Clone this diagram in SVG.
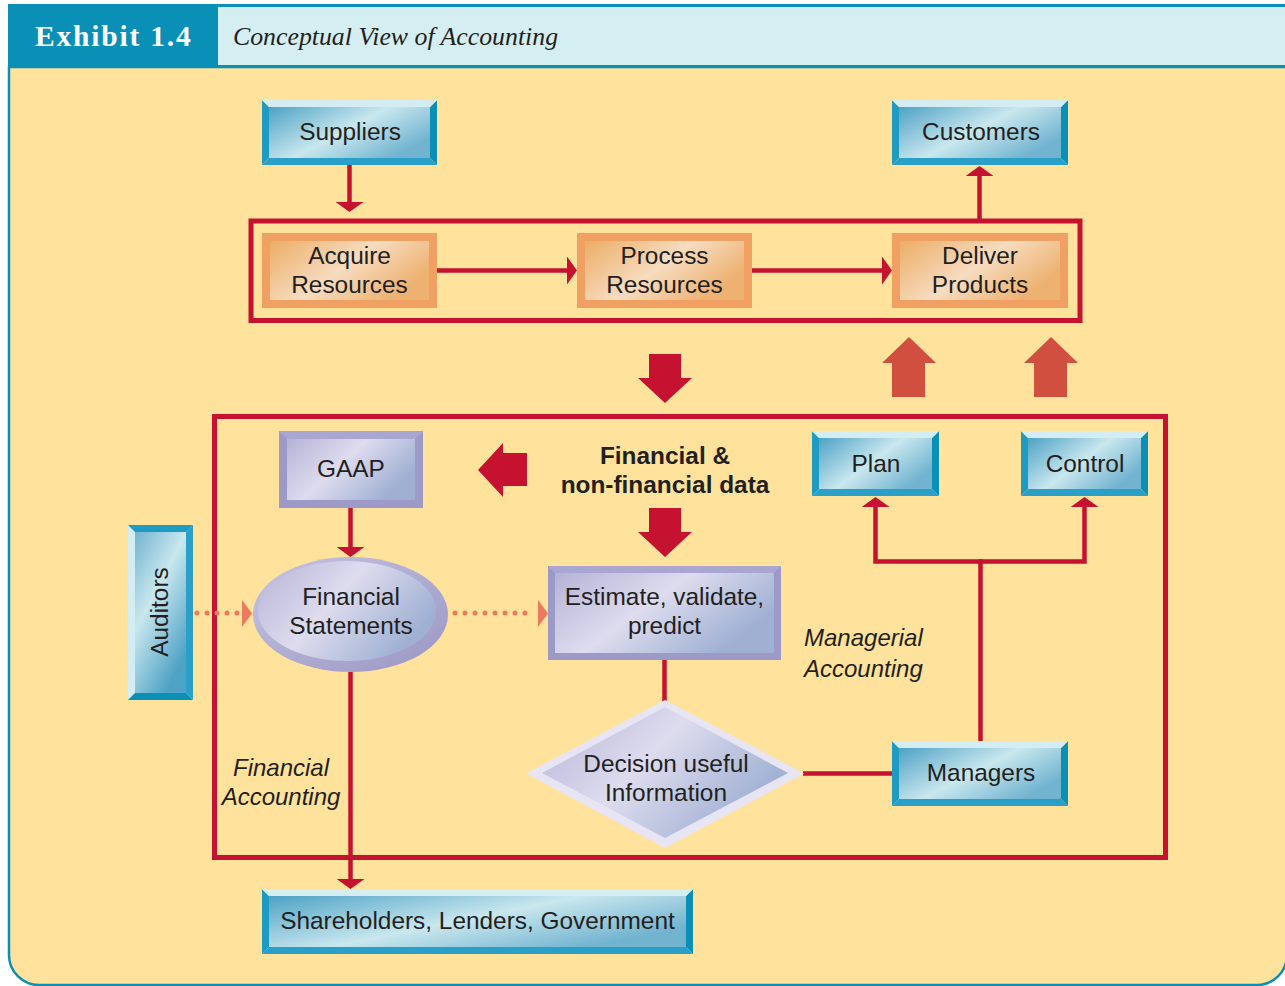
<svg xmlns="http://www.w3.org/2000/svg" width="1285" height="986" viewBox="0 0 1285 986">
  <defs>
    <style>
      .t { font-family: "Liberation Sans", Arial, sans-serif; font-size: 24.4px; fill: #231f20; text-anchor: middle; }
      .lbl { font-family: "Liberation Sans", Arial, sans-serif; font-size: 24px; fill: #231f20; font-style: italic; }
      .bold { font-weight: bold; }
      .wire { fill: none; stroke: #c41230; stroke-width: 4.5; }
      .frame { fill: none; stroke: #c41230; stroke-width: 5; }
      .dots { fill: none; stroke: #ec7a5e; stroke-width: 5; stroke-linecap: round; stroke-dasharray: 0 10; }
      .dothead { fill: #ec7a5e; }
      .big { fill: #c41230; }
      .bigUp { fill: #d14f3f; }
      .tTop { fill: #d3edf2; }
      .tLeft { fill: #1e9bc3; }
      .tRight { fill: #0a8fb6; }
      .tBot { fill: #2aa0c8; }
      .tIn { fill: url(#gTeal); }
      .oOut { fill: #f0a062; }
      .oIn { fill: url(#gOrange); }
      .pOut { fill: #9e9ac7; }
      .pTop { fill: #aaa6d2; }
      .pIn { fill: url(#gPurple); }
    </style>
    <linearGradient id="gTeal" x1="0" y1="0" x2="1" y2="0.6">
      <stop offset="0" stop-color="#4ea2c5"/>
      <stop offset="0.55" stop-color="#c9e7ee"/>
      <stop offset="1" stop-color="#72b4d0"/>
    </linearGradient>
    <linearGradient id="gTealV" x1="0.6" y1="1" x2="0" y2="0">
      <stop offset="0" stop-color="#4ea2c5"/>
      <stop offset="0.55" stop-color="#c9e7ee"/>
      <stop offset="1" stop-color="#72b4d0"/>
    </linearGradient>
    <linearGradient id="gOrange" x1="0" y1="0" x2="1" y2="0.5">
      <stop offset="0" stop-color="#ebad66"/>
      <stop offset="0.55" stop-color="#f7dcc0"/>
      <stop offset="1" stop-color="#edb272"/>
    </linearGradient>
    <linearGradient id="gPurple" x1="0" y1="0" x2="1" y2="0.5">
      <stop offset="0" stop-color="#b5b3d6"/>
      <stop offset="0.5" stop-color="#dedcee"/>
      <stop offset="1" stop-color="#9fb0d3"/>
    </linearGradient>
    <linearGradient id="gRing" x1="0" y1="0" x2="1" y2="1">
      <stop offset="0" stop-color="#c6c4e2"/>
      <stop offset="1" stop-color="#9a96c4"/>
    </linearGradient>
    <marker id="ah" markerUnits="userSpaceOnUse" markerWidth="10" markerHeight="28" viewBox="0 0 10 28" refX="0" refY="14" orient="auto">
      <path d="M0,0 L10,14 L0,28 z" fill="#c41230"/>
    </marker>
  </defs>

  <!-- page frame and title bar -->
  <g id="header">
    <rect x="8" y="4" width="1285" height="63" fill="#0a8fb6"/>
    <rect x="218" y="7" width="1070" height="58" fill="#d5eef2"/>
    <path d="M9,67 V955 A30,30 0 0 0 39,985 H1257 A30,30 0 0 0 1287,955 V67 Z" fill="#ffe29b" stroke="#0a8fb6" stroke-width="2.5"/>
    <text x="35" y="46" font-family="'Liberation Serif', 'Times New Roman', serif" font-size="29.5" font-weight="bold" fill="#ffffff" letter-spacing="1.8">Exhibit 1.4</text>
    <text x="233" y="45" font-family="'Liberation Serif', 'Times New Roman', serif" font-size="25.8" font-style="italic" fill="#231f20">Conceptual View of Accounting</text>
  </g>

  <!-- process and accounting boundaries -->
  <g id="frames">
    <rect class="frame" x="251" y="221" width="829" height="99.5"/>
    <rect class="frame" x="214.5" y="416.5" width="951" height="441"/>
  </g>

  <!-- block arrows -->
  <g id="block-arrows">
    <polygon class="big" points="649,354 681,354 681,378 692,378 665,403 638,378 649,378"/>
    <polygon class="big" points="649,508 681,508 681,532 692,532 665,557 638,532 649,532"/>
    <polygon class="big" points="527,453 527,486 503,486 503,497 478,470 503,443 503,453"/>
    <polygon class="bigUp" points="909,337 936,363 925,363 925,397 892,397 892,363 882,363"/>
    <polygon class="bigUp" points="1051,337 1078,363 1067,363 1067,397 1034,397 1034,363 1024,363"/>
  </g>

  <g id="connectors">
    <path class="wire" d="M349.5,165 V202" marker-end="url(#ah)"/>
    <path class="wire" d="M437,270.5 H567" marker-end="url(#ah)"/>
    <path class="wire" d="M752,270.5 H882" marker-end="url(#ah)"/>
    <path class="wire" d="M979.5,219 V176" marker-end="url(#ah)"/>
    <path class="wire" d="M350.5,508 V547" marker-end="url(#ah)"/>
    <path class="wire" d="M350.5,672 V879" marker-end="url(#ah)"/>
    <path class="wire" d="M664.5,660 V702"/>
    <path class="wire" d="M803,773.5 H892"/>
    <path class="wire" d="M980.5,741 V561.5"/>
    <path class="wire" d="M982.5,561.5 H875.5 V507" marker-end="url(#ah)"/>
    <path class="wire" d="M978.5,561.5 H1084.5 V507" marker-end="url(#ah)"/>
    <path class="dots" d="M197,613 H238"/>
    <path class="dothead" d="M242,600 L252,613.5 L242,627 z"/>
    <path class="dots" d="M455,613 H534"/>
    <path class="dothead" d="M538,600 L548,613.5 L538,627 z"/>
  </g>

  <!-- stakeholders (teal bevel boxes) -->
  <g id="suppliers">
    <polygon class="tLeft" points="262,100 269,107 269,158 262,165"/>
    <polygon class="tRight" points="437,100 430,107 430,158 437,165"/>
    <polygon class="tTop" points="262,100 437,100 430,107 269,107"/>
    <polygon class="tBot" points="262,165 437,165 430,158 269,158"/>
    <rect class="tIn" x="269" y="107" width="161" height="51"/>
    <text class="t" x="350" y="140">Suppliers</text>
  </g>

  <g id="customers">
    <polygon class="tLeft" points="892,100 899,107 899,158 892,165"/>
    <polygon class="tRight" points="1068,100 1061,107 1061,158 1068,165"/>
    <polygon class="tTop" points="892,100 1068,100 1061,107 899,107"/>
    <polygon class="tBot" points="892,165 1068,165 1061,158 899,158"/>
    <rect class="tIn" x="899" y="107" width="162" height="51"/>
    <text class="t" x="981" y="140">Customers</text>
  </g>

  <g id="plan">
    <polygon class="tLeft" points="812,431 819,438 819,489 812,496"/>
    <polygon class="tRight" points="939,431 932,438 932,489 939,496"/>
    <polygon class="tTop" points="812,431 939,431 932,438 819,438"/>
    <polygon class="tBot" points="812,496 939,496 932,489 819,489"/>
    <rect class="tIn" x="819" y="438" width="113" height="51"/>
    <text class="t" x="876" y="472">Plan</text>
  </g>

  <g id="control">
    <polygon class="tLeft" points="1021,431 1028,438 1028,489 1021,496"/>
    <polygon class="tRight" points="1148,431 1141,438 1141,489 1148,496"/>
    <polygon class="tTop" points="1021,431 1148,431 1141,438 1028,438"/>
    <polygon class="tBot" points="1021,496 1148,496 1141,489 1028,489"/>
    <rect class="tIn" x="1028" y="438" width="113" height="51"/>
    <text class="t" x="1085" y="472">Control</text>
  </g>

  <g id="managers">
    <polygon class="tLeft" points="892,741 899,748 899,799 892,806"/>
    <polygon class="tRight" points="1068,741 1061,748 1061,799 1068,806"/>
    <polygon class="tTop" points="892,741 1068,741 1061,748 899,748"/>
    <polygon class="tBot" points="892,806 1068,806 1061,799 899,799"/>
    <rect class="tIn" x="899" y="748" width="162" height="51"/>
    <text class="t" x="981" y="781">Managers</text>
  </g>

  <g id="shareholders">
    <polygon class="tLeft" points="262,889 269,896 269,947 262,954"/>
    <polygon class="tRight" points="693,889 686,896 686,947 693,954"/>
    <polygon class="tTop" points="262,889 693,889 686,896 269,896"/>
    <polygon class="tBot" points="262,954 693,954 686,947 269,947"/>
    <rect class="tIn" x="269" y="896" width="417" height="51"/>
    <text class="t" x="477.5" y="929">Shareholders, Lenders, Government</text>
  </g>

  <g id="auditors">
    <polygon class="tTop" points="128,525 135,532 135,693 128,700"/>
    <polygon class="tBot" points="193,525 186,532 186,693 193,700"/>
    <polygon class="tLeft" points="128,525 193,525 186,532 135,532"/>
    <polygon class="tRight" points="128,700 193,700 186,693 135,693"/>
    <rect x="135" y="532" width="51" height="161" fill="url(#gTealV)"/>
    <text class="t" transform="translate(168,612) rotate(-90)">Auditors</text>
  </g>

  <!-- operating activities (orange boxes) -->
  <g id="acquire">
    <rect class="oOut" x="262" y="233" width="175" height="75"/>
    <rect class="oIn" x="270" y="241" width="159" height="59"/>
    <text class="t" x="349.5" y="264">Acquire</text>
    <text class="t" x="349.5" y="293">Resources</text>
  </g>

  <g id="process">
    <rect class="oOut" x="577" y="233" width="175" height="75"/>
    <rect class="oIn" x="585" y="241" width="159" height="59"/>
    <text class="t" x="664.5" y="264">Process</text>
    <text class="t" x="664.5" y="293">Resources</text>
  </g>

  <g id="deliver">
    <rect class="oOut" x="892" y="233" width="176" height="75"/>
    <rect class="oIn" x="900" y="241" width="160" height="59"/>
    <text class="t" x="980" y="264">Deliver</text>
    <text class="t" x="980" y="293">Products</text>
  </g>

  <!-- accounting system (lavender shapes) -->
  <g id="gaap">
    <rect class="pOut" x="279" y="431" width="144" height="77"/>
    <polygon class="pTop" points="279,431 423,431 415,439 287,439"/>
    <rect class="pIn" x="287" y="439" width="128" height="61"/>
    <text class="t" x="351" y="477">GAAP</text>
  </g>

  <g id="financial-statements">
    <ellipse cx="350.5" cy="614.5" rx="97.5" ry="57.5" fill="url(#gRing)"/>
    <ellipse cx="347" cy="611" rx="89" ry="50" fill="url(#gPurple)"/>
    <text class="t" x="351" y="605">Financial</text>
    <text class="t" x="351" y="634">Statements</text>
  </g>

  <g id="estimate">
    <rect class="pOut" x="548" y="566" width="233" height="94"/>
    <polygon class="pTop" points="548,566 781,566 774,573 555,573"/>
    <rect class="pIn" x="555" y="573" width="219" height="80"/>
    <text class="t" x="664.5" y="605">Estimate, validate,</text>
    <text class="t" x="664.5" y="634">predict</text>
  </g>

  <g id="decision">
    <polygon points="665,700 804,773.5 665,848 526,773.5" fill="#e7e5f4"/>
    <polygon points="665,707 788,773 665,838 542,773" fill="url(#gPurple)"/>
    <text class="t" x="666" y="772">Decision useful</text>
    <text class="t" x="666" y="801">Information</text>
  </g>

  <!-- free labels -->
  <g id="labels">
    <text class="t bold" x="665" y="464">Financial &amp;</text>
    <text class="t bold" x="665" y="493">non-financial data</text>
    <text class="lbl" x="804" y="646">Managerial</text>
    <text class="lbl" x="804" y="677">Accounting</text>
    <text class="lbl" x="281" y="776" text-anchor="middle">Financial</text>
    <text class="lbl" x="281" y="805" text-anchor="middle">Accounting</text>
  </g>
</svg>
